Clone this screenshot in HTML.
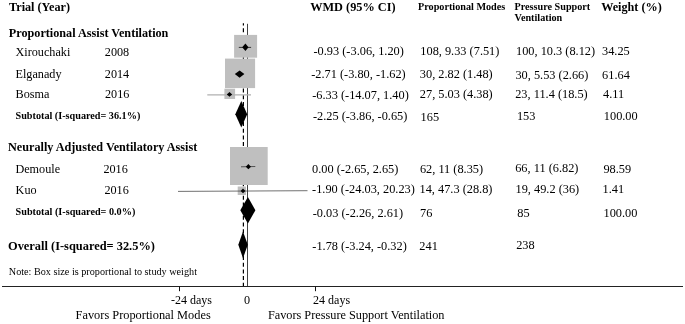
<!DOCTYPE html>
<html><head><meta charset="utf-8"><title>Forest plot</title>
<style>
html,body{margin:0;padding:0;background:#fff;}
svg{display:block;}
text{font-family:"Liberation Serif","Times New Roman",serif;fill:#000;font-size:12.2px;}
.b{font-weight:bold;}
.s{font-size:10.2px;}
g text{font-size:inherit;}
</style></head>
<body>
<svg width="685" height="324" viewBox="0 0 685 324">
<rect width="685" height="324" fill="#fff"/>
<!-- reference lines -->
<line x1="247.5" y1="23.8" x2="247.5" y2="286.5" stroke="#111" stroke-width="0.8"/>
<line x1="243.4" y1="23.3" x2="243.4" y2="286.5" stroke="#000" stroke-width="1.2" stroke-dasharray="4 2.7" stroke-dashoffset="1.8"/>
<!-- boxes -->
<g fill="#bfbfbf">
<rect x="234.1" y="34.9" width="23" height="22.8"/>
<rect x="225" y="58.6" width="30.1" height="29.5"/>
<rect x="224.4" y="88.7" width="10.7" height="10.3"/>
<rect x="230" y="147" width="37.7" height="38"/>
<rect x="237.7" y="186.5" width="8.3" height="8.5"/>
</g>
<!-- CI lines -->
<line x1="238.8" y1="47.4" x2="251.1" y2="47.4" stroke="#111" stroke-width="0.8"/>
<line x1="207.3" y1="94.9" x2="251" y2="94.9" stroke="#b0b0b0" stroke-width="1.2"/>
<line x1="241" y1="166.8" x2="255.3" y2="166.5" stroke="#222" stroke-width="0.7"/>
<line x1="178" y1="191.4" x2="307.5" y2="190.7" stroke="#333" stroke-width="0.7"/>
<!-- point diamonds -->
<g fill="#000">
<polygon points="242.2,47.3 245.4,43.5 248.5,47.3 245.4,51"/>
<polygon points="234.8,74.1 239.6,70.4 244.4,74.1 239.6,77.8"/>
<polygon points="226.8,94.4 229.5,92 232.2,94.4 229.5,96.8"/>
<polygon points="245.8,166.7 248.4,164.1 251,166.7 248.4,169.3"/>
<polygon points="240.6,190.9 243,188.5 245.4,190.9 243,193.3"/>
<!-- summary diamonds -->
<polygon points="235.3,114.2 241.3,101 247.2,114.2 241.3,127.4"/>
<polygon points="240.3,210.3 247.9,197.1 255.4,210.3 247.9,223.5"/>
<polygon points="238.3,244.8 243,231.4 247.8,244.8 243,258.2"/>
</g>
<!-- axis -->
<line x1="2" y1="286.5" x2="683" y2="286.5" stroke="#222" stroke-width="1.1"/>
<line x1="179.5" y1="286.5" x2="179.5" y2="291.2" stroke="#111" stroke-width="1"/>
<line x1="315.5" y1="286.5" x2="315.5" y2="291.2" stroke="#111" stroke-width="1"/>
<!-- left labels -->
<text class="b" x="9" y="11">Trial (Year)</text>
<text class="b" x="8.8" y="37.2">Proportional Assist Ventilation</text>
<text x="15.5" y="55.7">Xirouchaki</text><text x="104.8" y="55.7">2008</text>
<text x="15.5" y="78.1">Elganady</text><text x="104.8" y="78.1">2014</text>
<text x="15.5" y="98.3">Bosma</text><text x="105" y="98.2">2016</text>
<text class="b s" x="15.5" y="118.6">Subtotal (I-squared= 36.1%)</text>
<text class="b" x="8" y="151.3">Neurally Adjusted Ventilatory Assist</text>
<text x="15.4" y="172.5">Demoule</text><text x="103.4" y="172.5">2016</text>
<text x="15.6" y="193.5">Kuo</text><text x="104.4" y="193.5">2016</text>
<text class="b s" x="15.6" y="215">Subtotal (I-squared= 0.0%)</text>
<text class="b" x="8" y="249.7" style="font-size:12.4px">Overall (I-squared= 32.5%)</text>
<text class="s" x="8.8" y="275.3">Note: Box size is proportional to study weight</text>
<!-- axis labels -->
<text x="171" y="303.9" style="font-size:12px">-24 days</text>
<text x="244" y="303.9">0</text>
<text x="313.1" y="303.9" style="font-size:12px">24 days</text>
<text x="75.6" y="318.8" style="font-size:12.35px">Favors Proportional Modes</text>
<text x="267.9" y="318.8" style="font-size:12.28px">Favors Pressure Support Ventilation</text>
<!-- headers -->
<text class="b" x="310.2" y="11" style="font-size:12.3px">WMD (95% CI)</text>
<text class="b s" x="418" y="9.6">Proportional Modes</text>
<text class="b s" x="514.5" y="9.6">Pressure Support</text>
<text class="b s" x="514.5" y="21.2">Ventilation</text>
<text class="b" x="601.2" y="10.8">Weight (%)</text>
<g style="font-size:12.33px">
<!-- WMD col -->
<text x="313.5" y="54.7">-0.93 (-3.06, 1.20)</text>
<text x="311.2" y="77.7">-2.71 (-3.80, -1.62)</text>
<text x="312.2" y="98.5">-6.33 (-14.07, 1.40)</text>
<text x="312.9" y="120">-2.25 (-3.86, -0.65)</text>
<text x="312.1" y="172.8">0.00 (-2.65, 2.65)</text>
<text x="312.1" y="192.9">-1.90 (-24.03, 20.23)</text>
<text x="312.7" y="216.6">-0.03 (-2.26, 2.61)</text>
<text x="312.3" y="249.6">-1.78 (-3.24, -0.32)</text>
<!-- Proportional col -->
<text x="420.3" y="54.7">108, 9.33 (7.51)</text>
<text x="419.8" y="78">30, 2.82 (1.48)</text>
<text x="419.8" y="98.4">27, 5.03 (4.38)</text>
<text x="420.6" y="120.9">165</text>
<text x="419.9" y="172.8">62, 11 (8.35)</text>
<text x="419.5" y="193.3">14, 47.3 (28.8)</text>
<text x="420.1" y="217.4">76</text>
<text x="419.3" y="250.3">241</text>
<!-- PSV col -->
<text x="516" y="54.9">100, 10.3 (8.12)</text>
<text x="515.4" y="78.7">30, 5.53 (2.66)</text>
<text x="515.2" y="97.9">23, 11.4 (18.5)</text>
<text x="516.9" y="120.2">153</text>
<text x="515.2" y="172.3">66, 11 (6.82)</text>
<text x="515.5" y="193.4">19, 49.2 (36)</text>
<text x="517.3" y="216.5">85</text>
<text x="516.2" y="249.2">238</text>
<!-- Weight col -->
<text x="602" y="55.2">34.25</text>
<text x="602.1" y="78.6">61.64</text>
<text x="603.1" y="97.9">4.11</text>
<text x="603.8" y="120">100.00</text>
<text x="603.4" y="172.7">98.59</text>
<text x="602.6" y="193.3">1.41</text>
<text x="603.5" y="216.6">100.00</text>
</g>
</svg>
</body></html>
